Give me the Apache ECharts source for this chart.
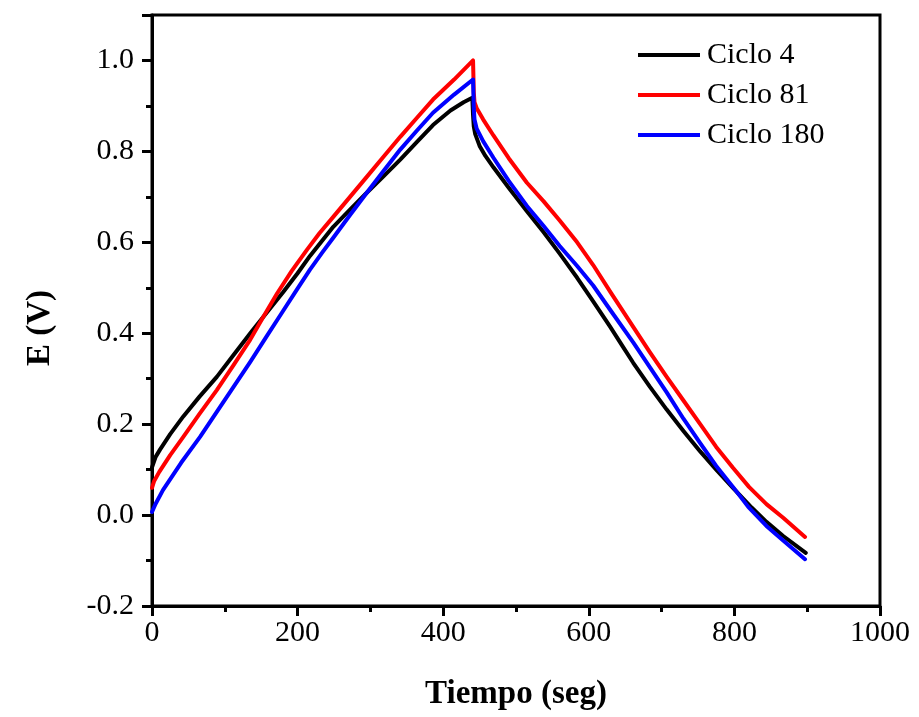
<!DOCTYPE html>
<html>
<head>
<meta charset="utf-8">
<script src="https://cdn.jsdelivr.net/npm/echarts@6/dist/echarts.min.js"></script>
<style>html,body{margin:0;padding:0;background:#fff}#c{width:919px;height:717px}</style>
</head>
<body>
<div id="c"></div>
<script>
// Data (time in s, potential in V)
const seriesNames = ['Ciclo 4', 'Ciclo 81', 'Ciclo 180'];
const ciclo4 = [[0,0.105],[5,0.128],[11,0.144],[25,0.178],[43,0.217],[65,0.260],[89,0.304],[112,0.352],[135,0.400],[158,0.446],[180,0.490],[200,0.532],[217,0.570],[249,0.634],[272,0.672],[295,0.709],[318,0.745],[341,0.782],[364,0.821],[386,0.858],[410,0.890],[428,0.908],[440,0.918],[441,0.880],[442,0.855],[444,0.838],[450,0.812],[458,0.790],[469,0.765],[490,0.720],[515,0.668],[538,0.622],[560,0.575],[584,0.522],[606,0.470],[629,0.415],[645,0.375],[661,0.335],[684,0.282],[707,0.232],[730,0.185],[753,0.140],[775,0.100],[798,0.060],[824,0.016],[844,-0.015],[867,-0.046],[898,-0.083]];
const ciclo81 = [[0,0.060],[3,0.075],[10,0.095],[25,0.132],[43,0.172],[65,0.222],[89,0.275],[112,0.330],[135,0.386],[153,0.436],[172,0.488],[192,0.537],[213,0.584],[230,0.620],[249,0.656],[272,0.700],[295,0.744],[318,0.788],[341,0.832],[364,0.874],[386,0.914],[415,0.958],[441,1.000],[442,0.930],[443,0.908],[446,0.895],[455,0.870],[469,0.835],[490,0.785],[515,0.731],[538,0.690],[560,0.648],[584,0.600],[606,0.550],[630,0.490],[661,0.414],[684,0.358],[707,0.304],[730,0.252],[753,0.200],[775,0.150],[798,0.104],[820,0.062],[844,0.024],[867,-0.006],[897,-0.048]];
const ciclo180 = [[0,0.007],[5,0.025],[15,0.055],[40,0.115],[66,0.172],[89,0.227],[112,0.282],[135,0.337],[157,0.392],[178,0.444],[199,0.496],[217,0.540],[235,0.580],[249,0.610],[272,0.660],[295,0.709],[318,0.757],[341,0.804],[364,0.846],[386,0.885],[415,0.925],[441,0.958],[442,0.895],[443,0.870],[446,0.850],[455,0.822],[469,0.786],[490,0.735],[515,0.680],[538,0.636],[560,0.592],[584,0.548],[606,0.505],[630,0.450],[661,0.380],[684,0.325],[707,0.270],[730,0.212],[753,0.158],[775,0.108],[798,0.062],[819,0.018],[844,-0.024],[867,-0.056],[897,-0.097]];
const seriesData = [ciclo4, ciclo81, ciclo180];
const colors = ['#000000', '#ff0000', '#0000ff'];
const xTitle = 'Tiempo (seg)';
const yTitle = 'E (V)';

const font = 'Liberation Serif';
const chart = echarts.init(document.getElementById('c'), null, {renderer: 'canvas'});
function axisCommon() {
  return {
    axisLine: {show: true, onZero: false, lineStyle: {color: '#000', width: 3}},
    axisTick: {show: true, inside: false, length: 10, lineStyle: {color: '#000', width: 3}},
    minorTick: {show: true, splitNumber: 2, length: 6, lineStyle: {color: '#000', width: 3}},
    splitLine: {show: false},
    minorSplitLine: {show: false}
  };
}
chart.setOption({
  animation: false,
  backgroundColor: '#fff',
  color: colors,
  grid: {left: 152, right: 39, top: 15, bottom: 111, show: true, borderColor: '#000', borderWidth: 3, containLabel: false},
  legend: {
    orient: 'vertical', left: 638, top: 40, padding: 0,
    icon: 'rect', itemWidth: 62, itemHeight: 4, itemGap: 10,
    data: seriesNames,
    textStyle: {fontFamily: font, fontSize: 30, color: '#000', lineHeight: 30, padding: [0,0,0,2]}
  },
  xAxis: Object.assign({
    type: 'value', min: 0, max: 1000, interval: 200,
    axisLabel: {fontFamily: font, fontSize: 30, color: '#000', margin: 12, formatter: v => String(v)}
  }, axisCommon()),
  yAxis: Object.assign({
    type: 'value', min: -0.2, max: 1.1, interval: 0.2,
    axisLabel: {fontFamily: font, fontSize: 30, color: '#000', margin: 18, showMaxLabel: false,
      formatter: v => v.toFixed(1)}
  }, axisCommon()),
  graphic: [
    {type: 'text', position: [516, 694],
      style: {text: xTitle, font: 'bold 33px "Liberation Serif"', fill: '#000', textAlign: 'center', textVerticalAlign: 'middle'}},
    {type: 'text', rotation: Math.PI / 2, position: [40, 328],
      style: {text: yTitle, font: 'bold 33px "Liberation Serif"', fill: '#000', textAlign: 'center', textVerticalAlign: 'middle'}}
  ],
  series: seriesNames.map((n, i) => ({
    name: n, type: 'line', data: seriesData[i],
    symbol: 'none', showSymbol: false,
    smooth: false,
    lineStyle: {width: 4, color: colors[i], join: 'round', cap: 'round'},
    itemStyle: {color: colors[i]}
  }))
});
</script>
</body>
</html>
